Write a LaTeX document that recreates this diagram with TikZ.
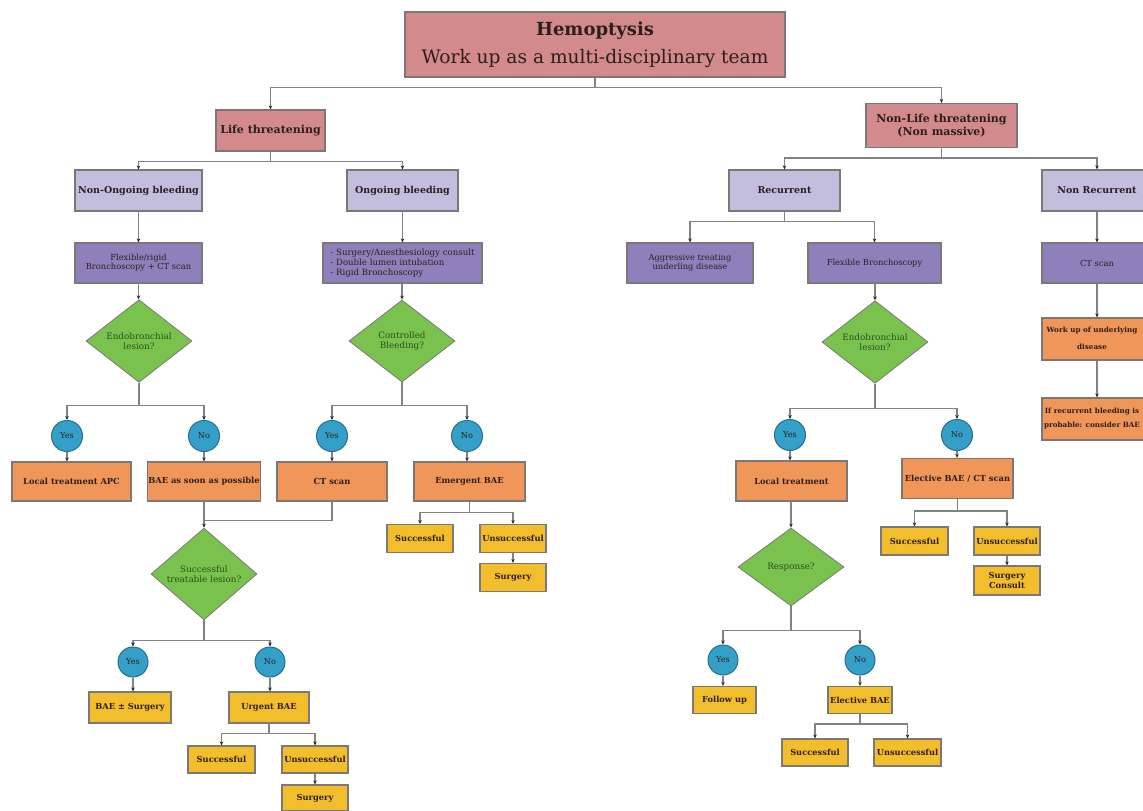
\documentclass[tikz,border=0pt]{standalone}
\usepackage{fontspec}
\setmainfont{DejaVu Serif}
\usetikzlibrary{arrows.meta,shapes.geometric}
\definecolor{pinkc}{RGB}{210,138,140}
\definecolor{lavc}{RGB}{196,190,222}
\definecolor{purc}{RGB}{143,128,188}
\definecolor{greenc}{RGB}{122,194,78}
\definecolor{tealc}{RGB}{52,160,200}
\definecolor{tealb}{RGB}{40,110,140}
\definecolor{orac}{RGB}{240,150,88}
\definecolor{yelc}{RGB}{242,190,44}
\definecolor{bordc}{RGB}{125,120,120}
\definecolor{linec}{RGB}{130,130,130}
\definecolor{txtc}{RGB}{45,30,30}
\definecolor{gtxt}{RGB}{40,80,25}
\tikzset{
  bx/.style={draw=bordc, line width=1.2pt, align=center, inner sep=1pt, text=txtc},
  pinkbox/.style={bx, fill=pinkc, font=\bfseries\fontsize{11}{13}\selectfont},
  lavbox/.style={bx, fill=lavc, minimum height=41pt, font=\bfseries\fontsize{9.5}{11}\selectfont},
  purbox/.style={bx, fill=purc, minimum height=40pt, font=\fontsize{8.3}{9.5}\selectfont},
  orabox/.style={bx, fill=orac, font=\bfseries\fontsize{8.3}{10}\selectfont},
  yelbox/.style={bx, fill=yelc, font=\bfseries\fontsize{8.3}{10}\selectfont},
  dia/.style={diamond, draw=bordc, line width=0.8pt, fill=greenc, inner sep=0pt, align=center, text=gtxt, font=\fontsize{8.8}{10.5}\selectfont, minimum width=106pt, minimum height=80pt},
  yn/.style={circle, draw=tealb, line width=1pt, fill=tealc, inner sep=0pt, minimum size=31pt, text=txtc, font=\fontsize{8.2}{9}\selectfont},
  ln/.style={draw=linec, line width=1.3pt},
  arr/.style={ln, -{Stealth[length=4pt,width=3.5pt,color=black!85]}}
}
\newcommand{\edgetext}[1]{\makebox[98pt]{\begin{tabular}{@{}c@{}}#1\end{tabular}}\hspace*{10pt}}
\begin{document}
\begin{tikzpicture}[x=1pt,y=-1pt]
\useasboundingbox (0,0) rectangle (1143,811);
\clip (0,0) rectangle (1143,811);
\fill[white] (0,0) rectangle (1143,811);
% top
\node[bx, fill=pinkc, minimum width=380pt, minimum height=65pt] (hemo) at (595,44.5)
  {{\bfseries\fontsize{18}{20}\selectfont Hemoptysis}\\[9pt]{\fontsize{18.6}{20}\selectfont Work up as a multi-disciplinary team}};
\node[pinkbox, minimum width=109pt, minimum height=41pt] (life) at (270.5,130.5) {Life threatening};
\node[pinkbox, minimum width=151pt, minimum height=44pt] (nonlife) at (941.5,125.5) {Non-Life threatening\\(Non massive)};
% level 2
\node[lavbox, minimum width=127pt] (nonong) at (138.5,190.5) {Non-Ongoing bleeding};
\node[lavbox, minimum width=111pt] (ong) at (402.5,190.5) {Ongoing bleeding};
\node[lavbox, minimum width=111pt] (recur) at (784.5,190.5) {Recurrent};
\node[lavbox, minimum width=110pt] (nonrec) at (1097,190.5) {Non Recurrent};
% level 3
\node[purbox, minimum width=127pt] (flex) at (138.5,263) {Flexible/rigid\\Bronchoscopy + CT scan};
\node[purbox, minimum width=159pt, align=left, font=\fontsize{8.6}{9.8}\selectfont] (surg) at (402.5,263) {- Surgery/Anesthesiology consult\\- Double lumen intubation\\- Rigid Bronchoscopy};
\node[purbox, minimum width=126pt] (aggr) at (690,263) {Aggressive treating\\underling disease};
\node[purbox, minimum width=133pt] (flexb) at (874.5,263) {Flexible Bronchoscopy};
\node[purbox, minimum width=110pt] (ctr) at (1097,263) {CT scan};
% diamonds
\node[dia, minimum height=82pt] (endo1) at (139,341) {Endobronchial\\lesion?};
\node[dia, minimum height=82pt] (ctrl) at (402,341) {Controlled\\Bleeding?};
\node[dia] (endo2) at (875,342) {Endobronchial\\lesion?};
% yes/no row 1
\node[yn] (y1) at (67,436) {Yes};
\node[yn] (n1) at (204,436) {No};
\node[yn] (y2) at (332,436) {Yes};
\node[yn] (n2) at (467,436) {No};
\node[yn] (y3) at (790,435) {Yes};
\node[yn] (n3) at (957,435) {No};
% orange row
\node[orabox, minimum width=119pt, minimum height=39pt] (lta) at (71.5,481.5) {Local treatment APC};
\node[orabox, minimum width=110pt, minimum height=39pt] (bae) at (204,481.5) {BAE as soon as possible};
\node[orabox, minimum width=110pt, minimum height=39pt] (cts) at (332,481.5) {CT scan};
\node[orabox, minimum width=111pt, minimum height=39pt] (emb) at (469.5,481.5) {Emergent BAE};
\node[orabox, minimum width=111pt, minimum height=40pt] (loct) at (791.5,481) {Local treatment};
\node[orabox, minimum width=111pt, minimum height=40pt] (elec) at (957.5,478.5) {Elective BAE / CT scan};
\node[orabox, minimum width=110pt, minimum height=42pt, font=\bfseries\fontsize{7.2}{8}\selectfont] (workup) at (1097,339) {\edgetext{Work up of underlying\\[9pt]disease}};
\node[orabox, minimum width=110pt, minimum height=42pt, font=\bfseries\fontsize{7.2}{8}\selectfont] (ifrec) at (1097,419) {\edgetext{If recurrent bleeding is\\[6pt]probable: consider BAE}};
% emergent children
\node[yelbox, minimum width=66pt, minimum height=28pt] (s1) at (420,538.5) {Successful};
\node[yelbox, minimum width=66pt, minimum height=28pt] (u1) at (513,538.5) {Unsuccessful};
\node[yelbox, minimum width=66pt, minimum height=28pt] (g1) at (513,577.5) {Surgery};
% successful treatable lesion
\node[dia, minimum height=78pt] (stl) at (204,574) {Successful\\treatable lesion?};
\node[yn, minimum size=30pt] (y4) at (133,662) {Yes};
\node[yn, minimum size=30pt] (n4) at (270,662) {No};
\node[yelbox, minimum width=82pt, minimum height=31pt] (baes) at (130,707.5) {BAE {\textpm} Surgery};
\node[yelbox, minimum width=80pt, minimum height=31pt] (urg) at (269,707.5) {Urgent BAE};
\node[yelbox, minimum width=67pt, minimum height=27pt] (s2) at (221.5,759.5) {Successful};
\node[yelbox, minimum width=66pt, minimum height=27pt] (u2) at (315,759.5) {Unsuccessful};
\node[yelbox, minimum width=66pt, minimum height=26pt] (g2) at (315,798) {Surgery};
% right lower
\node[dia, minimum height=78pt] (resp) at (791,567) {Response?};
\node[yn, minimum size=30pt] (y5) at (723,660) {Yes};
\node[yn, minimum size=30pt] (n5) at (860,660) {No};
\node[yelbox, minimum width=63pt, minimum height=27pt] (fol) at (724.5,700) {Follow up};
\node[yelbox, minimum width=64pt, minimum height=27pt] (elb) at (860,700) {Elective BAE};
\node[yelbox, minimum width=66pt, minimum height=27pt] (s3) at (815,752.5) {Successful};
\node[yelbox, minimum width=67pt, minimum height=27pt] (u3) at (907.5,752.5) {Unsuccessful};
\node[yelbox, minimum width=67pt, minimum height=28pt] (s4) at (914.5,541) {Successful};
\node[yelbox, minimum width=66pt, minimum height=28pt] (u4) at (1007,541) {Unsuccessful};
\node[yelbox, minimum width=66pt, minimum height=29pt, font=\bfseries\fontsize{8.3}{9.5}\selectfont] (gc) at (1007,580.5) {Surgery\\Consult};
% connectors
\draw[arr] (hemo.south) -- ++(0,10) -| (life.north);
\draw[arr] (hemo.south) -- ++(0,10) -| (nonlife.north);
\draw[arr] (life.south) -- ++(0,10) -| (nonong.north);
\draw[arr] (life.south) -- ++(0,10) -| (ong.north);
\draw[arr] (nonlife.south) -- ++(0,10) -| (recur.north);
\draw[arr] (nonlife.south) -- ++(0,10) -| (nonrec.north);
\draw[arr] (nonong.south) -- (flex.north);
\draw[arr] (ong.south) -- (surg.north);
\draw[arr] (recur.south) -- ++(0,10) -| (aggr.north);
\draw[arr] (recur.south) -- ++(0,10) -| (flexb.north);
\draw[arr] (nonrec.south) -- (ctr.north);
\draw[arr] (ctr.south) -- (workup.north);
\draw[arr] (workup.south) -- (ifrec.north);
\draw[arr] (flex.south) -- (flex.south |- endo1.north);
\draw[arr] (surg.south -| ctrl.north) -- (ctrl.north);
\draw[arr] (flexb.south -| endo2.north) -- (endo2.north);
\draw[arr] (endo1.south) -- ++(0,23) -| (y1.north);
\draw[arr] (endo1.south) -- ++(0,23) -| (n1.north);
\draw[arr] (ctrl.south) -- ++(0,23) -| (y2.north);
\draw[arr] (ctrl.south) -- ++(0,23) -| (n2.north);
\draw[arr] (endo2.south) -- ++(0,25) -| (y3.north);
\draw[arr] (endo2.south) -- ++(0,25) -| (n3.north);
\draw[arr] (y1.south) -- (y1.south |- lta.north);
\draw[arr] (n1.south) -- (bae.north);
\draw[arr] (y2.south) -- (cts.north);
\draw[arr] (n2.south) -- (n2.south |- emb.north);
\draw[arr] (y3.south) -- (y3.south |- loct.north);
\draw[arr] (n3.south) -- (n3.south |- elec.north);
\draw[arr] (emb.south) -- ++(0,11) -| (s1.north);
\draw[arr] (emb.south) -- ++(0,11) -| (u1.north);
\draw[arr] (u1.south) -- (g1.north);
\draw[ln] (bae.south) -- ++(0,19) -| (cts.south);
\draw[arr] (bae.south) -- (stl.north);
\draw[arr] (stl.south) -- ++(0,20) -| (y4.north);
\draw[arr] (stl.south) -- ++(0,20) -| (n4.north);
\draw[arr] (y4.south) -- (y4.south |- baes.north);
\draw[arr] (n4.south) -- (n4.south |- urg.north);
\draw[arr] (urg.south) -- ++(0,10) -| (s2.north);
\draw[arr] (urg.south) -- ++(0,10) -| (u2.north);
\draw[arr] (u2.south) -- (g2.north);
\draw[arr] (resp.north |- loct.south) -- (resp.north);
\draw[arr] (resp.south) -- ++(0,24) -| (y5.north);
\draw[arr] (resp.south) -- ++(0,24) -| (n5.north);
\draw[arr] (y5.south) -- (y5.south |- fol.north);
\draw[arr] (n5.south) -- (elb.north);
\draw[arr] (elb.south) -- ++(0,10) -| (s3.north);
\draw[arr] (elb.south) -- ++(0,10) -| (u3.north);
\draw[arr] (elec.south) -- ++(0,12) -| (s4.north);
\draw[arr] (elec.south) -- ++(0,12) -| (u4.north);
\draw[arr] (u4.south) -- (gc.north);
\end{tikzpicture}
\end{document}
